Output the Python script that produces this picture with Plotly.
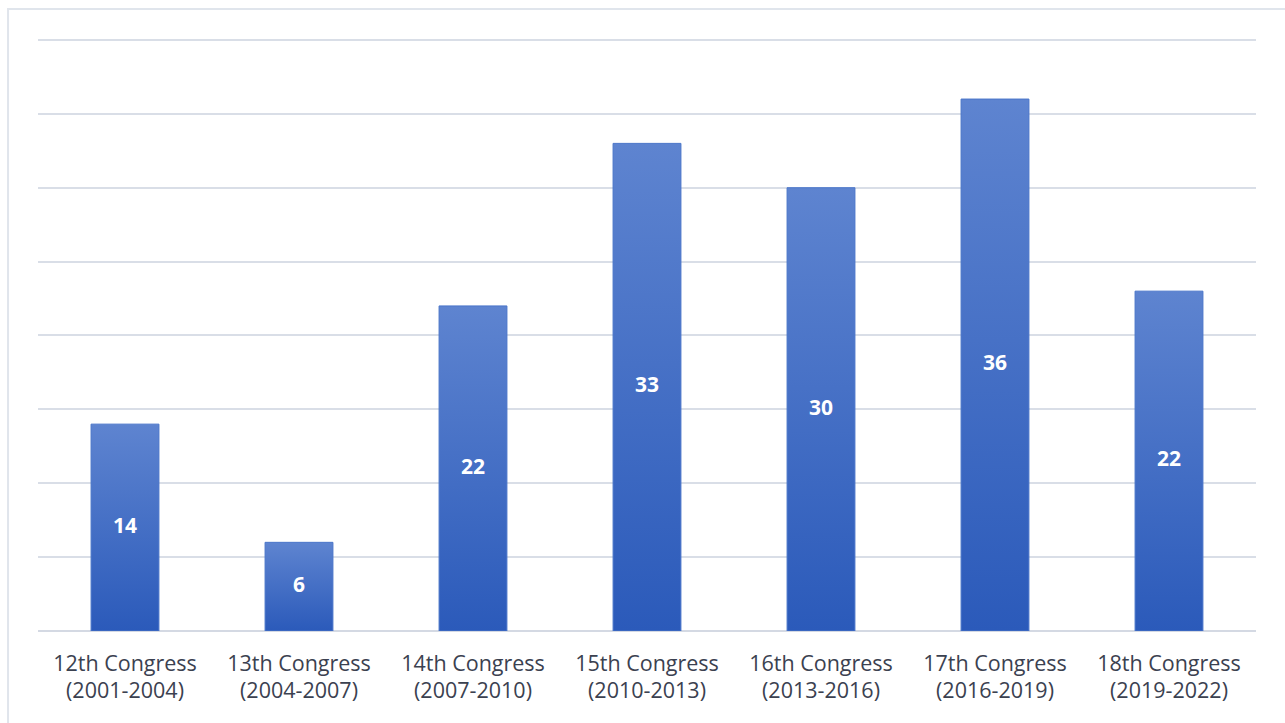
import plotly.graph_objects as go

categories = ["12th Congress<br>(2001-2004)", "13th Congress<br>(2004-2007)",
              "14th Congress<br>(2007-2010)", "15th Congress<br>(2010-2013)",
              "16th Congress<br>(2013-2016)", "17th Congress<br>(2016-2019)",
              "18th Congress<br>(2019-2022)"]
bar_heights = [14, 6, 22, 33, 30, 36, 23]
data_labels = ["14", "6", "22", "33", "30", "36", "22"]
y_ticks = [0, 5, 10, 15, 20, 25, 30, 35, 40]

BAR_W = 0.39
TOP_C = "#5E84D0"
BOT_C = "#2B5ABA"

fig = go.Figure()

# gradient-filled bars built from the data values
for i, h in enumerate(bar_heights):
    x0, x1 = i - BAR_W / 2, i + BAR_W / 2
    fig.add_trace(go.Scatter(
        x=[x0, x1, x1, x0, x0], y=[0, 0, h, h, 0],
        mode="lines", fill="toself",
        line=dict(color="#4A75C9", width=1),
        fillgradient=dict(type="vertical",
                          colorscale=[[0, BOT_C], [1, TOP_C]],
                          start=0, stop=h),
        hoverinfo="skip", showlegend=False))

# data labels centred in each bar
fig.add_trace(go.Scatter(
    x=list(range(len(bar_heights))), y=[h / 2 for h in bar_heights],
    mode="text", text=data_labels, textposition="middle center",
    textfont=dict(family="Open Sans", size=21, color="white", weight="bold"),
    hoverinfo="skip", showlegend=False))

fig.update_layout(
    width=1285, height=723,
    margin=dict(l=38, r=29, t=37, b=92),
    paper_bgcolor="white", plot_bgcolor="white",
    font=dict(family="Open Sans", color="#3B4150"),
    xaxis=dict(tickmode="array", tickvals=list(range(len(categories))),
               ticktext=categories, range=[-0.5, len(categories) - 0.5],
               showgrid=False, zeroline=False, showline=False,
               tickfont=dict(size=21.5, color="#3B4150"), ticks="",
               ticklabelstandoff=17),
    yaxis=dict(range=[0, 40.2], tickvals=y_ticks, showticklabels=False,
               gridcolor="#D9DEE7", gridwidth=2, zeroline=True,
               zerolinecolor="#D4D9E3", zerolinewidth=2,
               showline=False, ticks=""),
    shapes=[dict(type="rect", xref="paper", yref="paper",
                 x0=-0.0246, x1=1.2, y0=-0.3, y1=1.047,
                 line=dict(color="#E0E5EC", width=2), fillcolor="rgba(0,0,0,0)",
                 layer="below")],
)

fig.write_html("out.html")
